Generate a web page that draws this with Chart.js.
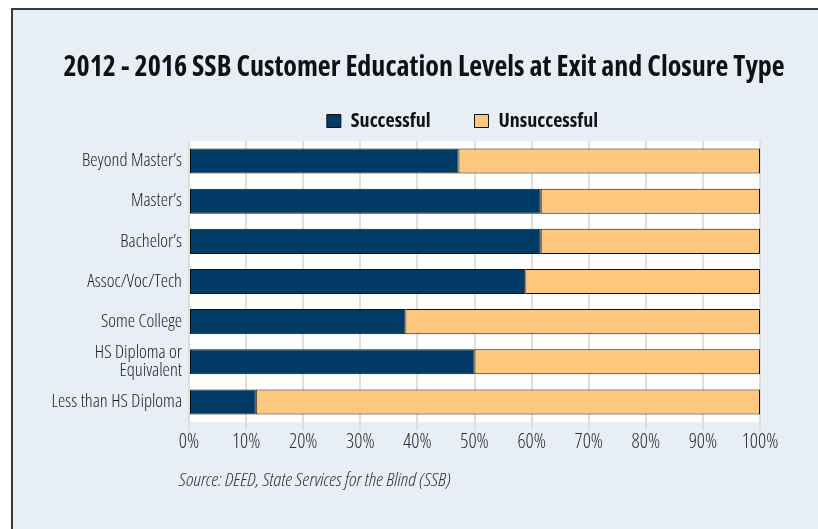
<!DOCTYPE html>
<html>
<head>
<meta charset="utf-8">
<script src="https://cdn.jsdelivr.net/npm/chart.js@4"></script>
<style>
  html, body { margin: 0; padding: 0; background: #ffffff; width: 818px; height: 529px; overflow: hidden; }
  #panel { position: absolute; left: 11px; top: 8px; width: 807px; height: 521px; box-sizing: border-box;
           border-left: 2px solid #3a3a3a; border-top: 2px solid #3a3a3a; background: #e7eef6; }
  #wrap { position: absolute; left: 0; top: 0; width: 818px; height: 529px; }
  #source { position: absolute; left: 179px; top: 467px; font-family: "Open Sans", sans-serif; font-stretch: 75%;
            font-weight: 300; font-style: italic; font-size: 18px; color: #333333; white-space: nowrap;
            transform: scaleX(1.097); transform-origin: 0 0; }
</style>
</head>
<body>
<div id="panel"></div>
<div id="wrap"><canvas id="c" width="818" height="529"></canvas></div>
<div id="source">Source: DEED, State Services for the Blind (SSB)</div>
<script>
const categories = ["Beyond Master\u2019s", "Master\u2019s", "Bachelor\u2019s", "Assoc/Voc/Tech", "Some College", ["HS Diploma or", "Equivalent"], "Less than HS Diploma"];
const successful = [47.2, 61.6, 61.6, 58.9, 37.9, 50.0, 11.7];
const unsuccessful = [52.8, 38.4, 38.4, 41.1, 62.1, 50.0, 88.3];
const xTicks = [0, 10, 20, 30, 40, 50, 60, 70, 80, 90, 100];
const titleText = "2012 - 2016 SSB Customer Education Levels at Exit and Closure Type";

const FONT = '"Open Sans", sans-serif';

const plotBg = {
  id: 'plotBg',
  beforeDraw(chart) {
    const {ctx, chartArea: a} = chart;
    ctx.save();
    ctx.fillStyle = '#ffffff';
    ctx.fillRect(a.left, a.top, a.right - a.left, a.bottom - a.top);
    ctx.restore();
  }
};

// nudge the legend block slightly left of the plot centre, as in the original
const legendNudge = {
  id: 'legendNudge',
  afterLayout(chart) {
    if (chart.legend) { chart.legend.left -= 12; chart.legend.right -= 12; }
  }
};

new Chart(document.getElementById('c'), {
  type: 'bar',
  data: {
    labels: categories,
    datasets: [
      { label: 'Successful', data: successful, backgroundColor: '#023a66', borderColor: '#111111', borderWidth: 1, borderSkipped: false,
        barPercentage: 0.78, categoryPercentage: 0.8 },
      { label: 'Unsuccessful', data: unsuccessful, backgroundColor: '#fec97f', borderColor: '#111111', borderWidth: 1, borderSkipped: false,
        barPercentage: 0.78, categoryPercentage: 0.8 }
    ]
  },
  options: {
    indexAxis: 'y',
    responsive: false,
    animation: false,
    devicePixelRatio: 1,
    layout: { padding: { top: 0, right: 18, bottom: 75, left: 48 } },
    plugins: {
      title: {
        display: true, text: titleText, color: '#111111', fullSize: true,
        font: { family: FONT, size: 28, weight: 'bold condensed', lineHeight: 1.2 },
        padding: { top: 51, bottom: -17.6 }
      },
      legend: {
        display: true, position: 'top', align: 'center', fullSize: false,
        labels: { boxWidth: 14, boxHeight: 13, padding: 44, color: '#111111',
                  font: { family: FONT, size: 20, weight: 'bold condensed' } }
      },
      tooltip: { enabled: false }
    },
    scales: {
      x: {
        stacked: true, min: 0, max: 100,
        afterBuildTicks(scale) { scale.ticks = xTicks.map(v => ({ value: v })); },
        afterFit(scale) { scale.height = 32; },
        grid: { color: '#dedede', lineWidth: 2, drawTicks: true, tickLength: 8, tickColor: '#dedede' },
        border: { display: false },
        ticks: { color: '#2e2e2e', padding: 0, font: { family: FONT, size: 20, weight: '300 condensed' }, callback: v => v + '%' }
      },
      y: {
        stacked: true,
        afterFit(scale) { scale.width = 141; },
        grid: { display: false, drawTicks: false },
        border: { display: false },
        ticks: { color: '#1e1e1e', padding: 7, font: { family: FONT, size: 18.5, weight: '300 condensed', lineHeight: 1.0 } }
      },
      yr: {
        type: 'category', position: 'right', display: true,
        afterFit(scale) { scale.width = 40; },
        grid: { display: false, drawTicks: false }, border: { display: false }, ticks: { display: false }
      }
    }
  },
  plugins: [plotBg, legendNudge]
});
</script>
</body>
</html>
